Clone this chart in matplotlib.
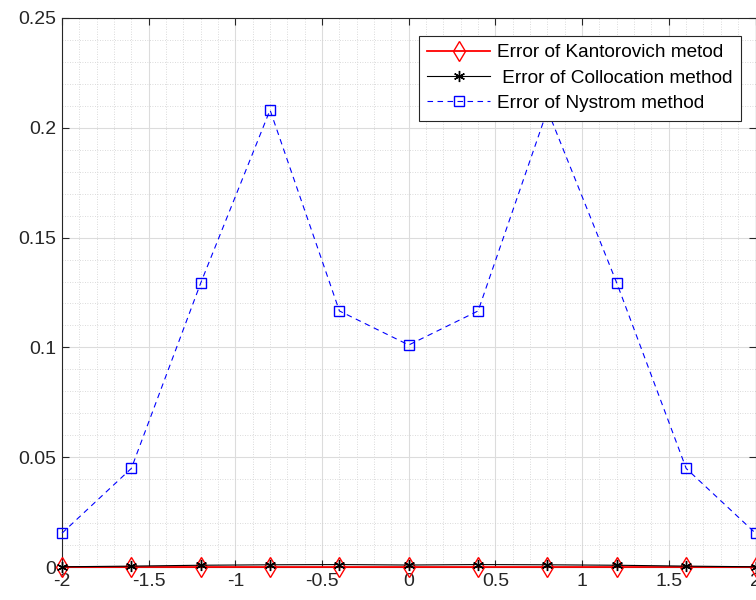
import matplotlib
matplotlib.use("Agg")
import matplotlib.pyplot as plt
from matplotlib.ticker import MultipleLocator

x = [-2.0, -1.6, -1.2, -0.8, -0.4, 0.0, 0.4, 0.8, 1.2, 1.6, 2.0]
err_kantorovich = [0.0, 0.0, 0.0, 0.0, 0.0, 0.0, 0.0, 0.0, 0.0, 0.0, 0.0]
err_collocation = [0.0001, 0.0004, 0.0008, 0.0010, 0.0011, 0.0009, 0.0011, 0.0010, 0.0008, 0.0004, 0.0001]
err_nystrom = [0.0154, 0.0449, 0.1293, 0.2081, 0.1166, 0.1011, 0.1166, 0.2081, 0.1293, 0.0449, 0.0154]

xticks = [-2, -1.5, -1, -0.5, 0, 0.5, 1, 1.5, 2]
xticklabels = ["-2", "-1.5", "-1", "-0.5", "0", "0.5", "1", "1.5", "2"]
yticks = [0, 0.05, 0.1, 0.15, 0.2, 0.25]
yticklabels = ["0", "0.05", "0.1", "0.15", "0.2", "0.25"]

plt.rcParams['font.family'] = ['Liberation Sans', 'DejaVu Sans']

fig = plt.figure(figsize=(7.56, 6.0), dpi=100)
ax = fig.add_axes([62/756, 1 - 567/600, (755.5 - 62)/756, (567 - 18)/600])

ax.plot(x, err_kantorovich, color='red', marker='d', markersize=10.5,
        markerfacecolor='none', markeredgecolor='red', linewidth=1.3,
        label='Error of Kantorovich metod', clip_on=False, zorder=3)
ax.plot(x, err_collocation, color='black', marker=(6, 2, 0), markersize=8,
        linewidth=0.8, label=' Error of Collocation method', clip_on=False, zorder=4)
ax.plot(x, err_nystrom, color='blue', marker='s', markersize=6.5,
        markerfacecolor='none', markeredgecolor='blue', linestyle=(0, (5, 4)),
        linewidth=0.8, label='Error of Nystrom method', clip_on=False, zorder=3)

ax.set_xlim(-2, 2)
ax.set_ylim(0, 0.25)
ax.set_xticks(xticks)
ax.set_xticklabels(xticklabels)
ax.set_yticks(yticks)
ax.set_yticklabels(yticklabels)
ax.xaxis.set_minor_locator(MultipleLocator(0.1))
ax.yaxis.set_minor_locator(MultipleLocator(0.01))

ax.grid(True, which='major', color='#dcdcdc', linestyle='-', linewidth=0.8)
ax.grid(True, which='minor', color='#cfcfcf', linestyle=(0, (1, 2)), linewidth=0.6)
ax.set_axisbelow(True)

for sp in ax.spines.values():
    sp.set_color('#262626')
    sp.set_linewidth(0.8)

ax.tick_params(which='major', direction='in', length=5, width=0.8, top=True, right=True,
               labelsize=14, colors='#262626', pad=4)
ax.tick_params(which='minor', length=0, top=True, right=True)

leg = ax.legend(loc='upper right', bbox_to_anchor=(741/756, 1 - 35.5/600),
                bbox_transform=fig.transFigure, fontsize=13.7, frameon=True,
                fancybox=False, edgecolor='#262626', framealpha=1.0,
                handlelength=3.3, borderpad=0.45, labelspacing=0.42,
                handletextpad=0.35, borderaxespad=0)
leg.get_frame().set_linewidth(0.8)

fig.savefig("out.png", dpi=100)
